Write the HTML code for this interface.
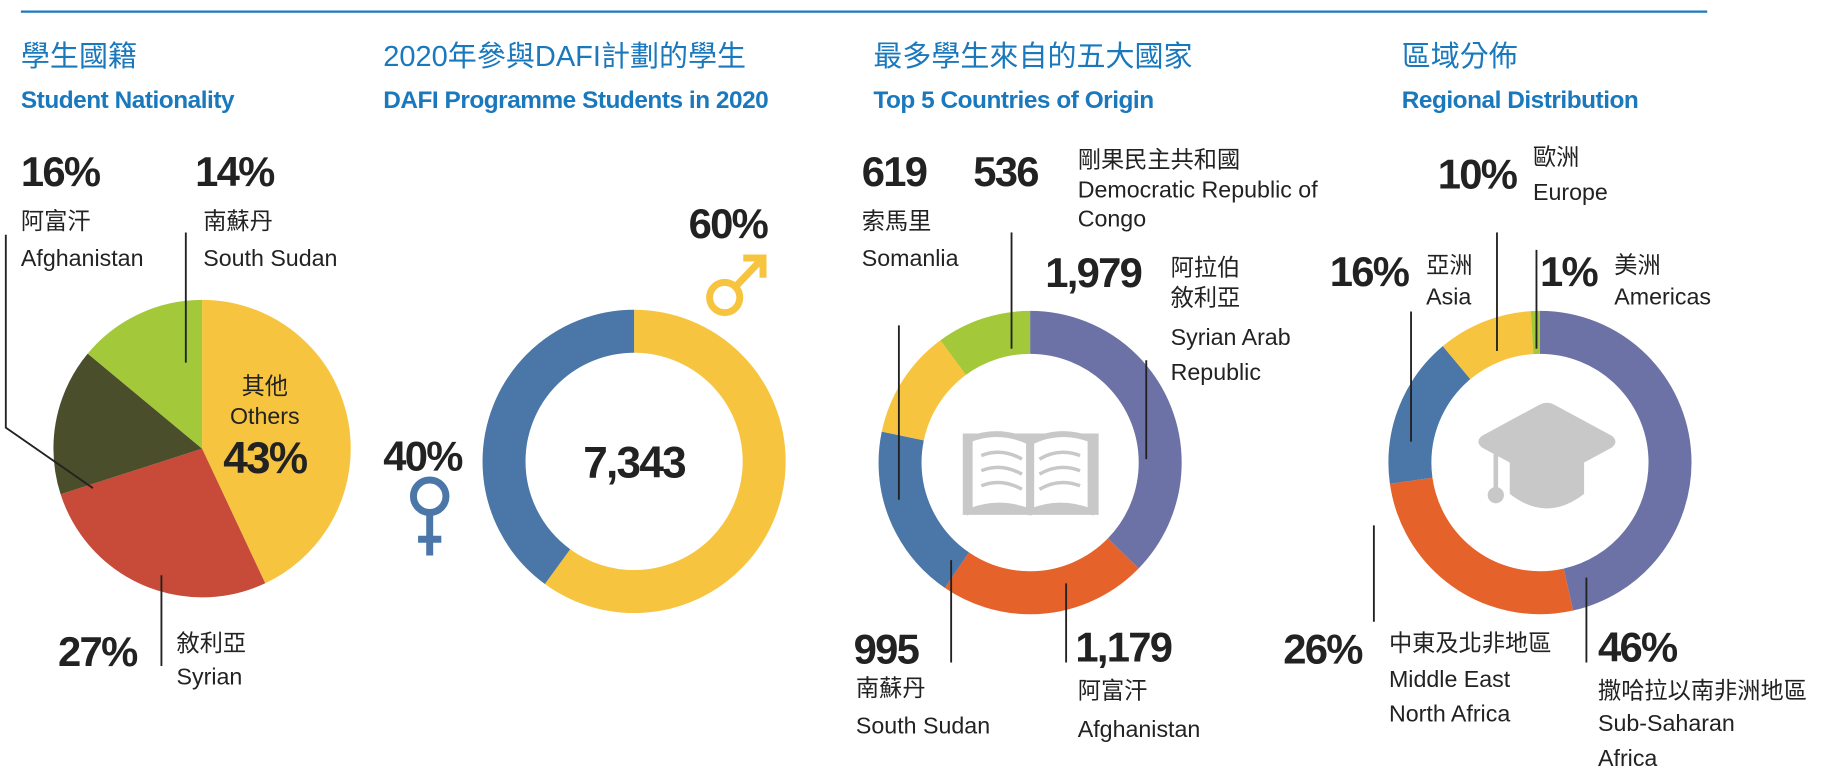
<!DOCTYPE html>
<html><head><meta charset="utf-8"><style>
html,body{margin:0;padding:0;background:#fff;width:1821px;height:781px;overflow:hidden}
svg{display:block}
.zh{font-family:"Liberation Sans","Noto Sans CJK TC",sans-serif;fill:#1a78bd;font-size:25px}
.en{font-family:"Liberation Sans",sans-serif;font-weight:bold;fill:#1a78bd;font-size:21px;letter-spacing:-0.4px}
.num{font-family:"Liberation Sans",sans-serif;font-weight:bold;fill:#222;font-size:36px;letter-spacing:-1.5px}
.lb{font-family:"Liberation Sans Narrow","Liberation Sans","Noto Sans CJK TC",sans-serif;fill:#222;font-size:20px}
.ln{stroke:#222;stroke-width:1.6;fill:none}
</style></head><body>
<svg width="1821" height="781" viewBox="0 0 1568 672" preserveAspectRatio="none" xmlns="http://www.w3.org/2000/svg">
<line x1="18" y1="10" x2="1470" y2="10" stroke="#1a78bd" stroke-width="2"/>
<!-- titles -->
<text class="zh" x="18" y="57">學生國籍</text>
<text class="en" x="18" y="93">Student Nationality</text>
<text class="zh" x="330" y="57">2020年參與DAFI計劃的學生</text>
<text class="en" x="330" y="93">DAFI Programme Students in 2020</text>
<text class="zh" x="752" y="57">最多學生來自的五大國家</text>
<text class="en" x="752" y="93">Top 5 Countries of Origin</text>
<text class="zh" x="1207" y="57">區域分佈</text>
<text class="en" x="1207" y="93">Regional Distribution</text>

<!-- Pie 1 -->
<g transform="rotate(-90 174 386)" fill="none" stroke-width="128">
<circle cx="174" cy="386" r="64" stroke="#f7c43f" stroke-dasharray="172.9 402.12" stroke-dashoffset="0"/>
<circle cx="174" cy="386" r="64" stroke="#c84a38" stroke-dasharray="108.6 402.12" stroke-dashoffset="-172.9"/>
<circle cx="174" cy="386" r="64" stroke="#4a4e2b" stroke-dasharray="64.3 402.12" stroke-dashoffset="-281.5"/>
<circle cx="174" cy="386" r="64" stroke="#a3c93a" stroke-dasharray="56.4 402.12" stroke-dashoffset="-345.8"/>
</g>
<text class="num" x="18" y="160">16%</text>
<text class="lb" x="18" y="197">阿富汗</text>
<text class="lb" x="18" y="229">Afghanistan</text>
<polyline class="ln" points="5,202 5,368 80,420"/>
<text class="num" x="168" y="160">14%</text>
<text class="lb" x="175" y="197">南蘇丹</text>
<text class="lb" x="175" y="229">South Sudan</text>
<line class="ln" x1="160" y1="200" x2="160" y2="312"/>
<text class="lb" x="228" y="339" text-anchor="middle">其他</text>
<text class="lb" x="228" y="365" text-anchor="middle">Others</text>
<text class="num" x="228" y="407" text-anchor="middle" style="font-size:38px">43%</text>
<text class="num" x="50" y="573">27%</text>
<line class="ln" x1="139" y1="495" x2="139" y2="573"/>
<text class="lb" x="152" y="560">敘利亞</text>
<text class="lb" x="152" y="589">Syrian</text>

<!-- Donut 2 -->
<g transform="rotate(-90 546 397)" fill="none" stroke-width="37">
<circle cx="546" cy="397" r="112" stroke="#f7c43f" stroke-dasharray="422.2 703.7"/>
<circle cx="546" cy="397" r="112" stroke="#4a76a8" stroke-dasharray="281.5 703.7" stroke-dashoffset="-422.2"/>
</g>
<text class="num" x="546" y="411" text-anchor="middle" style="font-size:38px">7,343</text>
<text class="num" x="593" y="205">60%</text>
<g stroke="#f7c43f" stroke-width="6" fill="none">
<circle cx="624" cy="256" r="13"/>
<line x1="633" y1="247" x2="655" y2="224"/>
<polyline points="640,222 657,222 657,239"/>
</g>
<text class="num" x="330" y="405">40%</text>
<g stroke="#4a76a8" stroke-width="6" fill="none">
<circle cx="370" cy="427" r="14"/>
<line x1="370" y1="441" x2="370" y2="478"/>
<line x1="360" y1="464" x2="380" y2="464"/>
</g>

<!-- Donut 3 -->
<g transform="rotate(-90 887 398)" fill="none" stroke-width="37">
<circle cx="887" cy="398" r="112" stroke="#6d72a6" stroke-dasharray="262.4 703.7"/>
<circle cx="887" cy="398" r="112" stroke="#e6622b" stroke-dasharray="156.3 703.7" stroke-dashoffset="-262.4"/>
<circle cx="887" cy="398" r="112" stroke="#4a76a8" stroke-dasharray="131.9 703.7" stroke-dashoffset="-418.7"/>
<circle cx="887" cy="398" r="112" stroke="#f7c43f" stroke-dasharray="82.1 703.7" stroke-dashoffset="-550.6"/>
<circle cx="887" cy="398" r="112" stroke="#a3c93a" stroke-dasharray="71.0 703.7" stroke-dashoffset="-632.6"/>
</g>
<g fill="none" stroke="#c8c8c8" stroke-width="5">
<rect x="829" y="373" width="117" height="70" fill="#c8c8c8" stroke="none"/>
<path d="M835,440 L835,378 Q860,368 886,380 L886,440 Q860,430 835,440Z" fill="#fff" stroke="#c8c8c8"/>
<path d="M939,440 L939,378 Q913,368 888,380 L888,440 Q913,430 939,440Z" fill="#fff" stroke="#c8c8c8"/>
<path d="M845,392 Q862,385 880,395 M845,405 Q862,398 880,408 M845,418 Q862,411 880,421 M895,395 Q912,385 930,392 M895,408 Q912,398 930,405 M895,421 Q912,411 930,418" stroke-width="3"/>
</g>
<text class="num" x="742" y="160">619</text>
<text class="lb" x="742" y="197">索馬里</text>
<text class="lb" x="742" y="229">Somanlia</text>
<line class="ln" x1="774" y1="280" x2="774" y2="430"/>
<text class="num" x="838" y="160">536</text>
<line class="ln" x1="871" y1="200" x2="871" y2="300"/>
<text class="lb" x="928" y="144">剛果民主共和國</text>
<text class="lb" x="928" y="170">Democratic Republic of</text>
<text class="lb" x="928" y="195">Congo</text>
<text class="num" x="900" y="247">1,979</text>
<text class="lb" x="1008" y="237">阿拉伯</text>
<text class="lb" x="1008" y="263">敘利亞</text>
<text class="lb" x="1008" y="297">Syrian Arab</text>
<text class="lb" x="1008" y="327">Republic</text>
<line class="ln" x1="987" y1="310" x2="987" y2="395"/>
<text class="num" x="735" y="571">995</text>
<text class="lb" x="737" y="599">南蘇丹</text>
<text class="lb" x="737" y="631">South Sudan</text>
<line class="ln" x1="819" y1="482" x2="819" y2="570"/>
<text class="num" x="926" y="569">1,179</text>
<text class="lb" x="928" y="601">阿富汗</text>
<text class="lb" x="928" y="634">Afghanistan</text>
<line class="ln" x1="918" y1="502" x2="918" y2="570"/>

<!-- Donut 4 -->
<g transform="rotate(-90 1326 398)" fill="none" stroke-width="37">
<circle cx="1326" cy="398" r="112" stroke="#6d72a6" stroke-dasharray="327.0 703.7"/>
<circle cx="1326" cy="398" r="112" stroke="#e6622b" stroke-dasharray="184.8 703.7" stroke-dashoffset="-327.0"/>
<circle cx="1326" cy="398" r="112" stroke="#4a76a8" stroke-dasharray="113.7 703.7" stroke-dashoffset="-511.8"/>
<circle cx="1326" cy="398" r="112" stroke="#f7c43f" stroke-dasharray="71.1 703.7" stroke-dashoffset="-625.5"/>
<circle cx="1326" cy="398" r="112" stroke="#a3c93a" stroke-dasharray="7.2 703.7" stroke-dashoffset="-696.6"/>
</g>
<g fill="#c8c8c8">
<path d="M1300,395 L1300,425 Q1332,450 1364,425 L1364,395 L1332,413Z"/>
<path d="M1276,385 Q1270,380 1276,375 L1326,348 Q1332,345 1338,348 L1388,375 Q1394,380 1388,385 L1338,412 Q1332,415 1326,412Z"/>
<rect x="1286" y="390" width="4" height="32"/>
<circle cx="1288" cy="426" r="7"/>
</g>
<text class="num" x="1238" y="162">10%</text>
<text class="lb" x="1320" y="142">歐洲</text>
<text class="lb" x="1320" y="172">Europe</text>
<line class="ln" x1="1289" y1="200" x2="1289" y2="302"/>
<text class="num" x="1145" y="246">16%</text>
<text class="lb" x="1228" y="235">亞洲</text>
<text class="lb" x="1228" y="262">Asia</text>
<line class="ln" x1="1215" y1="268" x2="1215" y2="380"/>
<text class="num" x="1326" y="246">1%</text>
<text class="lb" x="1390" y="235">美洲</text>
<text class="lb" x="1390" y="262">Americas</text>
<line class="ln" x1="1323" y1="215" x2="1323" y2="300"/>
<text class="num" x="1105" y="571">26%</text>
<text class="lb" x="1196" y="560">中東及北非地區</text>
<text class="lb" x="1196" y="591">Middle East</text>
<text class="lb" x="1196" y="621">North Africa</text>
<line class="ln" x1="1183" y1="452" x2="1183" y2="535"/>
<text class="num" x="1376" y="569">46%</text>
<text class="lb" x="1376" y="601">撒哈拉以南非洲地區</text>
<text class="lb" x="1376" y="629">Sub-Saharan</text>
<text class="lb" x="1376" y="659">Africa</text>
<line class="ln" x1="1366" y1="497" x2="1366" y2="570"/>
</svg>
</body></html>
